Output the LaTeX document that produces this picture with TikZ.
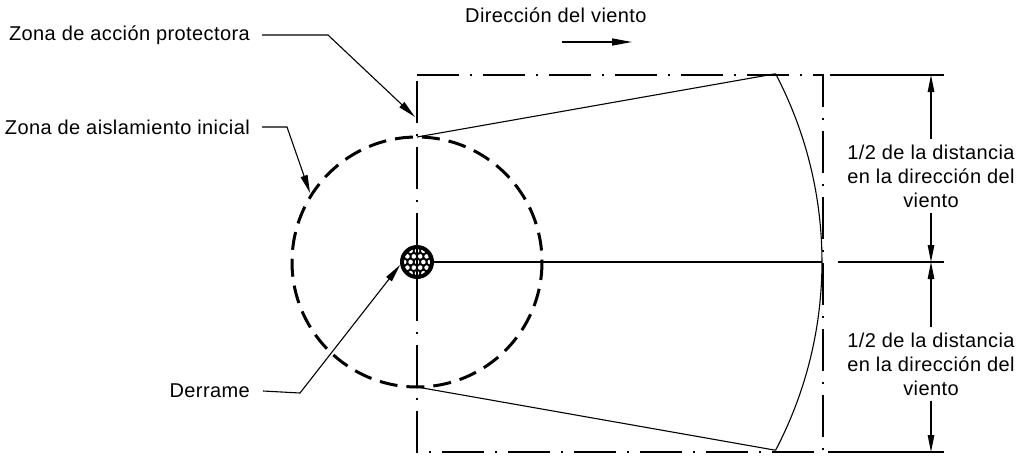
\documentclass[tikz,border=0pt]{standalone}
\usepackage{fontspec}
\setmainfont[LetterSpace=2]{Liberation Sans}
\usetikzlibrary{arrows.meta,calc}
\begin{document}
\begin{tikzpicture}[x=1pt,y=-1pt,
  chainline/.style={line width=2.8pt, dash pattern=on 42pt off 11pt on 2pt off 11pt},
  dashcirc/.style={line width=3pt, dash pattern=on 18pt off 9pt},
  thinline/.style={line width=1.1pt},
  leader/.style={line width=1.1pt, -{Triangle[length=18pt,width=7pt]}},
  dimline/.style={line width=1.1pt, -{Triangle[length=17pt,width=6.5pt]}},
  windarrow/.style={line width=1.3pt, -{Triangle[length=20pt,width=7pt]}},
  lbl/.style={font=\fontsize{20}{24}\selectfont, inner sep=0pt},
  dimtext/.style={lbl, align=center, inner ysep=5pt},
]
\useasboundingbox (0,0) rectangle (1025,455);

% main geometry
\coordinate (c) at (417,262);
\coordinate (r1) at (417,75);
\coordinate (r2) at (823,75);
\coordinate (r3) at (823,452);
\coordinate (r4) at (417,452);
\draw[chainline] (r1) -- (r2) -- (r3) -- (r4) -- cycle;
\draw[dashcirc] (c) circle[radius=125];

% wedge
\coordinate (wt0) at (417,137);
\coordinate (wb0) at (417,387);
\coordinate (wt1) at ($(c)+(-27.7:405)$);
\coordinate (wb1) at ($(c)+(27.7:405)$);
\draw[thinline] (wt0) -- (wt1);
\draw[thinline] (wb0) -- (wb1);
\draw[thinline] (wt1) arc[start angle=-27.7,end angle=27.7,radius=405];

% spill
\node[circle, fill=black, minimum size=34pt, inner sep=0pt] (spill) at (c) {};
\begin{scope}
  \clip (c) circle[radius=13];
  \foreach \i in {-3,...,3}{
    \foreach \j in {-3,...,3}{
      \pgfmathsetmacro{\xo}{\i*6.4 + mod(abs(\j),2)*3.2}
      \fill[white] ($(c)+(\xo,\j*5.6)$) circle[radius=2.3];
    }
  }
\end{scope}
\draw[line width=2pt] (417,246) -- (417,278);
\coordinate (axisend) at (822,262);
\draw[thinline] (spill.east) -- (axisend);

% labels with leaders
\node[lbl, anchor=east] (lbl1) at (250,35) {Zona de acción protectora};
\coordinate (k1) at (328,35);
\coordinate (t1) at (415,117);
\draw[leader] ([xshift=12pt]lbl1.east) -- (k1) -- (t1);

\node[lbl, anchor=east] (lbl2) at (250,127) {Zona de aislamiento inicial};
\coordinate (k2) at (287,127);
\coordinate (t2) at (310,193);
\draw[leader] ([xshift=12pt]lbl2.east) -- (k2) -- (t2);

\node[lbl, anchor=east] (lbl3) at (250,391) {Derrame};
\coordinate (k3) at (300,393);
\draw[leader] ([xshift=13pt]lbl3.east) -- (k3) -- (spill.190);

% wind direction
\node[lbl, anchor=west] (wind) at (465,15) {Dirección del viento};
\coordinate (wa) at (562,42);
\coordinate (wb) at (632,42);
\draw[windarrow] (wa) -- (wb);

% dimensions
\coordinate (e1a) at (830,75);  \coordinate (e1b) at (944,75);
\coordinate (e2a) at (838,262); \coordinate (e2b) at (944,262);
\coordinate (e3a) at (828,452); \coordinate (e3b) at (944,452);
\draw[thinline] (e1a) -- (e1b);
\draw[thinline] (e2a) -- (e2b);
\draw[thinline] (e3a) -- (e3b);
\coordinate (d1) at (931,75);
\coordinate (d2) at (931,262);
\coordinate (d3) at (931,452);
\node[dimtext] (dt1) at (931,176) {1/2 de la distancia\\en la dirección del\\viento};
\node[dimtext] (dt2) at (931,364) {1/2 de la distancia\\en la dirección del\\viento};
\draw[dimline] (dt1.north) -- (d1);
\draw[dimline] (dt1.south) -- (d2);
\draw[dimline] (dt2.north) -- (d2);
\draw[dimline] (dt2.south) -- (d3);
\end{tikzpicture}
\end{document}
